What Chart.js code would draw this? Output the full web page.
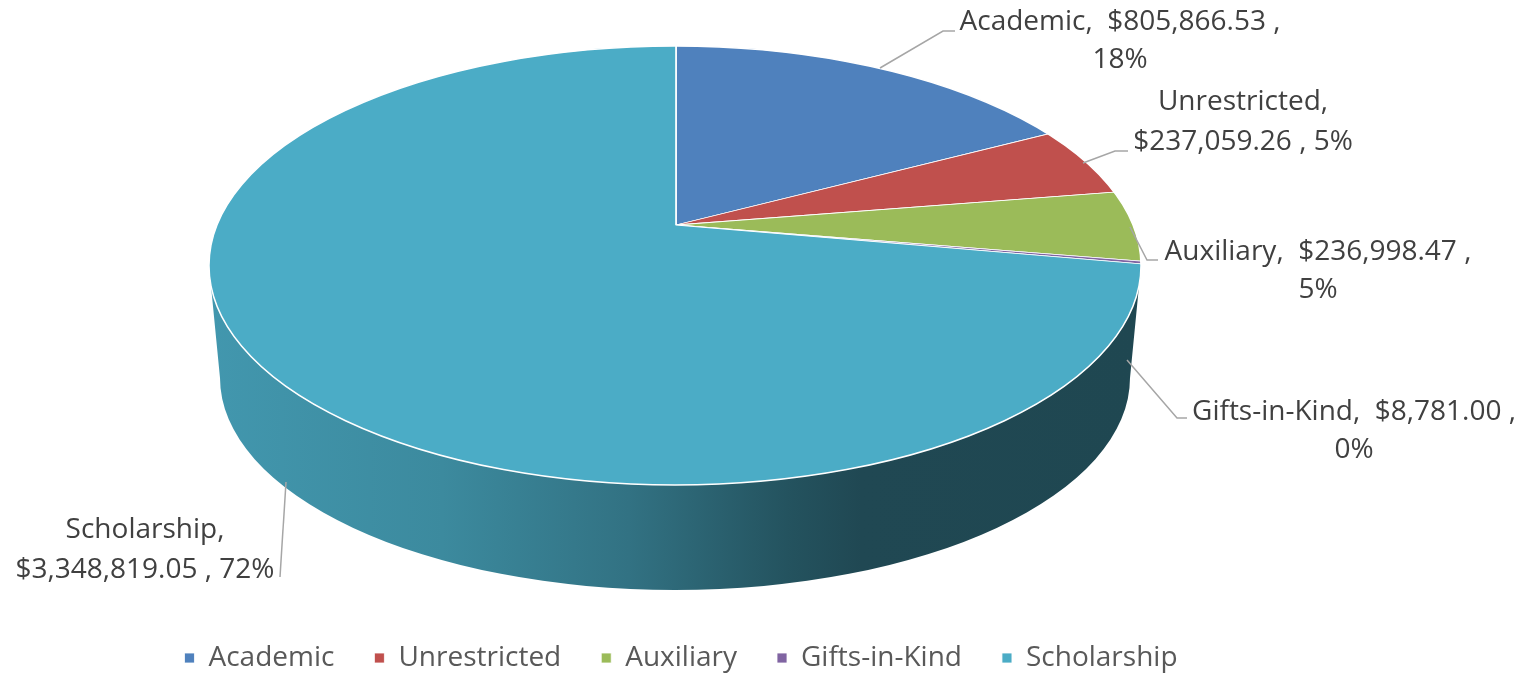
<!DOCTYPE html>
<html>
<head>
<meta charset="utf-8">
<script src="https://cdn.jsdelivr.net/npm/chart.js@4.4.1/dist/chart.umd.min.js"></script>
<style>
  html, body { margin: 0; padding: 0; background: #ffffff; }
  #wrap { width: 1536px; height: 673px; position: relative; }
</style>
</head>
<body>
<div id="wrap"><canvas id="c" width="1536" height="673"></canvas></div>
<script>
// ---- data ----
const categories = ['Academic', 'Unrestricted', 'Auxiliary', 'Gifts-in-Kind', 'Scholarship'];
const amounts = [805866.53, 237059.26, 236998.47, 8781.00, 3348819.05];
const sliceColors = ['#4F81BD', '#C0504D', '#9BBB59', '#8064A2', '#4BACC6'];

// ---- styling / layout (not data) ----
const FONT = '"Open Sans", "Noto Sans", sans-serif';
const FONT_SIZE = 28;
const TEXT_COLOR = '#404040';
// top face outline (ellipse), bottom outline (perspective), apex
const PIE = { cx: 675, cy: 265.5, rx: 466, ry: 219.5 };
const BOTTOM = { cx: 675, cy: 378, rx: 455, ry: 212 };
const APEX = { x: 676, y: 225 };
const K = PIE.ry / PIE.rx;       // vertical squash of the disc
const BIG = 620;                  // radius used before clipping to the outline
// label boxes: text centre x, line middles y, line split mode, leader polyline
const labelLayout = [
  { x: 1120, ys: [22, 60],   split: 'afterValue', leader: [[880, 68], [943, 31], [955, 31]] },
  { x: 1243, ys: [102, 142], split: 'afterName',  leader: [[1083, 163], [1115, 151], [1128, 151]] },
  { x: 1318, ys: [252, 290], split: 'afterValue', leader: [[1130, 227], [1147, 260], [1158, 260]] },
  { x: 1354, ys: [412, 450], split: 'afterValue', leader: [[1127, 360], [1177, 418], [1187, 418]] },
  { x: 145,  ys: [530, 570], split: 'afterName',  leader: [[286, 482], [280, 577]] }
];

function fmtMoney(v) {
  return '$' + v.toLocaleString('en-US', { minimumFractionDigits: 2, maximumFractionDigits: 2 });
}
// whole percentages adding up to 100 (largest remainder)
function percents(vals) {
  const total = vals.reduce((a, b) => a + b, 0);
  const raw = vals.map(v => v / total * 100);
  const out = raw.map(Math.floor);
  const left = 100 - out.reduce((a, b) => a + b, 0);
  const order = raw.map((r, i) => [r - Math.floor(r), i]).sort((a, b) => b[0] - a[0]);
  for (let k = 0; k < left; k++) out[order[k][1]]++;
  return out;
}
function hexToRgb(h) {
  const n = parseInt(h.slice(1), 16);
  return [(n >> 16) & 255, (n >> 8) & 255, n & 255];
}
function shade(rgb, f) {
  return 'rgb(' + rgb.map(c => Math.round(c * f)).join(',') + ')';
}
// ellipse parameter where the ray from the apex at (library) angle phi meets the outline
function rimParam(phi) {
  const dx = Math.cos(phi), dy = K * Math.sin(phi);
  const px = (APEX.x - PIE.cx) / PIE.rx, py = (APEX.y - PIE.cy) / PIE.ry;
  const ux = dx / PIE.rx, uy = dy / PIE.ry;
  const a = ux * ux + uy * uy, b = 2 * (px * ux + py * uy), c = px * px + py * py - 1;
  const lam = (-b + Math.sqrt(b * b - 4 * a * c)) / (2 * a);
  const x = APEX.x + lam * dx, y = APEX.y + lam * dy;
  return Math.atan2((y - PIE.cy) / PIE.ry, (x - PIE.cx) / PIE.rx);
}

const pie3d = {
  id: 'pie3d',
  beforeDatasetsDraw(chart) {
    const ctx = chart.ctx;
    const meta = chart.getDatasetMeta(0);
    // side walls on the front of the disc, from the library's arc angles
    meta.data.forEach((el, i) => {
      let t0 = rimParam(el.startAngle), t1 = rimParam(el.endAngle);
      while (t1 < t0) t1 += 2 * Math.PI;
      [[0, Math.PI], [2 * Math.PI, 3 * Math.PI]].forEach(([lo, hi]) => {
        const a0 = Math.max(t0, lo), a1 = Math.min(t1, hi);
        if (a1 <= a0) return;
        const rgb = hexToRgb(sliceColors[i]);
        const g = ctx.createLinearGradient(PIE.cx - PIE.rx, 0, PIE.cx + PIE.rx, 0);
        g.addColorStop(0, shade(rgb, 0.88));
        g.addColorStop(0.25, shade(rgb, 0.8));
        g.addColorStop(0.45, shade(rgb, 0.66));
        g.addColorStop(0.62, shade(rgb, 0.48));
        g.addColorStop(0.7, shade(rgb, 0.42));
        g.addColorStop(1, shade(rgb, 0.41));
        ctx.save();
        ctx.beginPath();
        ctx.ellipse(PIE.cx, PIE.cy, PIE.rx, PIE.ry, 0, a0, a1, false);
        ctx.ellipse(BOTTOM.cx, BOTTOM.cy, BOTTOM.rx, BOTTOM.ry, 0, a1, a0, true);
        ctx.closePath();
        ctx.fillStyle = g;
        ctx.fill();
        ctx.restore();
      });
    });
    // top face: library pie, squashed around the apex and clipped to the outline
    const el0 = meta.data[0];
    const R = el0.outerRadius;
    ctx.save();
    ctx.beginPath();
    ctx.ellipse(PIE.cx, PIE.cy, PIE.rx, PIE.ry, 0, 0, 2 * Math.PI);
    ctx.clip();
    ctx.translate(APEX.x, APEX.y);
    ctx.scale(BIG / R, BIG * K / R);
    ctx.translate(-el0.x, -el0.y);
  },
  afterDatasetsDraw(chart) {
    const ctx = chart.ctx;
    ctx.restore();
    ctx.save();
    ctx.beginPath();
    ctx.ellipse(PIE.cx, PIE.cy, PIE.rx, PIE.ry, 0, 0, 2 * Math.PI);
    ctx.strokeStyle = '#FFFFFF';
    ctx.lineWidth = 1.5;
    ctx.stroke();
    ctx.restore();
  },
  afterDraw(chart) {
    const ctx = chart.ctx;
    const pcts = percents(amounts);
    ctx.save();
    labelLayout.forEach((L, i) => {
      ctx.beginPath();
      ctx.strokeStyle = '#A6A6A6';
      ctx.lineWidth = 1.5;
      L.leader.forEach((p, k) => k === 0 ? ctx.moveTo(p[0], p[1]) : ctx.lineTo(p[0], p[1]));
      ctx.stroke();
      const name = categories[i] + ',';
      const money = fmtMoney(amounts[i]);
      const pct = pcts[i] + '%';
      const lines = L.split === 'afterValue'
        ? [name + '  ' + money + ' ,', pct]
        : [name, money + ' , ' + pct];
      ctx.fillStyle = TEXT_COLOR;
      ctx.font = FONT_SIZE + 'px ' + FONT;
      ctx.textAlign = 'center';
      ctx.textBaseline = 'middle';
      lines.forEach((t, k) => ctx.fillText(t, L.x, L.ys[k]));
    });
    ctx.restore();
  }
};

new Chart(document.getElementById('c'), {
  type: 'pie',
  data: {
    labels: categories,
    datasets: [{
      data: amounts,
      backgroundColor: sliceColors,
      borderColor: '#FFFFFF',
      borderWidth: 0.8
    }]
  },
  options: {
    responsive: false,
    animation: false,
    events: [],
    layout: { padding: { top: 10, left: 0, right: 174, bottom: -9 } },
    plugins: {
      legend: {
        position: 'bottom',
        labels: {
          boxWidth: 10,
          boxHeight: 10,
          padding: 40,
          color: '#595959',
          font: { family: FONT, size: FONT_SIZE }
        }
      },
      tooltip: { enabled: false },
      title: { display: false }
    }
  },
  plugins: [pie3d]
});
</script>
</body>
</html>
